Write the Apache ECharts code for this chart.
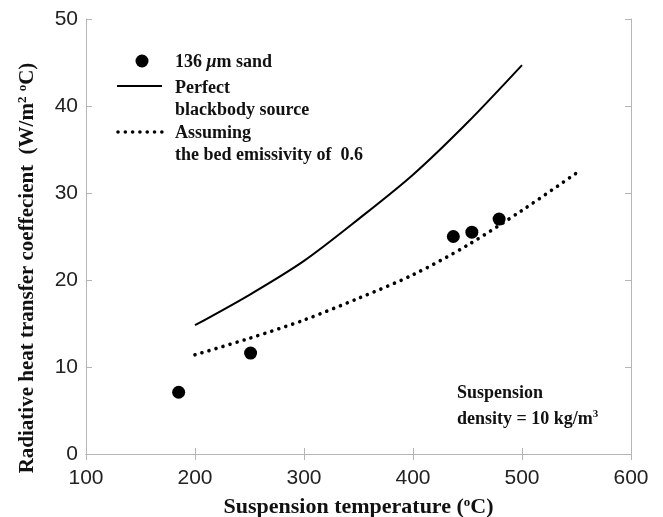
<!DOCTYPE html>
<html>
<head>
<meta charset="utf-8">
<script src="https://cdn.jsdelivr.net/npm/echarts@6/dist/echarts.min.js"></script>
<style>
  html, body { margin: 0; padding: 0; background: #fff; }
  #chart { width: 663px; height: 517px; }
</style>
</head>
<body>
<div id="chart"></div>
<script>
// measured points, 136 um sand
const sandTemp = [185, 251, 437, 454, 479];
const sandCoef = [7.1, 11.6, 25.0, 25.5, 27.0];
// perfect blackbody source
const bbTemp = [200, 250, 300, 350, 400, 450, 500];
const bbCoef = [14.8, 18.3, 22.2, 27.0, 32.1, 38.1, 44.7];
// bed emissivity 0.6
const emTemp = [200, 250, 300, 350, 400, 450, 500, 550];
const emCoef = [11.4, 13.3, 15.4, 17.9, 20.6, 24.0, 28.0, 32.3];

const serif = '"Liberation Serif", "DejaVu Serif", serif';
const sans = '"Liberation Sans", Arial, sans-serif';
const axisGray = '#b5b5b5';
const ink = '#111';

function pairs(xs, ys) {
  return xs.map((x, i) => [x, ys[i]]);
}

function sup(size, lift) {
  return { fontFamily: serif, fontWeight: 'bold', fontSize: size, padding: [0, 0, lift, 0], color: ink, fill: ink };
}

function label(x, y, text, rich) {
  return {
    type: 'text', x: x, y: y,
    style: {
      text: text, fontFamily: serif, fontWeight: 'bold', fontSize: 18, fill: ink,
      verticalAlign: 'middle', rich: rich || {}
    }
  };
}

let myChart = echarts.init(document.getElementById('chart'));
myChart.setOption({
  backgroundColor: '#fff',
  animation: false,
  grid: { left: 86, right: 32, top: 19, bottom: 63, containLabel: false, outerBoundsMode: 'none' },
  xAxis: [
    {
      type: 'value', min: 100, max: 600, interval: 100,
      name: 'Suspension temperature ({s|o}C)',
      nameLocation: 'middle', nameGap: 42,
      nameTextStyle: {
        fontFamily: serif, fontWeight: 'bold', fontSize: 22, color: ink,
        rich: { s: sup(13, 10) }
      },
      axisLine: { lineStyle: { color: axisGray } },
      axisTick: { inside: true, length: 6, lineStyle: { color: axisGray } },
      axisLabel: { fontFamily: sans, fontSize: 21, color: '#222', margin: 14 },
      splitLine: { show: false }
    },
    {
      type: 'value', min: 100, max: 600, interval: 100, position: 'top',
      axisLine: { show: true, lineStyle: { color: axisGray } },
      axisTick: { inside: true, length: 6, lineStyle: { color: axisGray } },
      axisLabel: { show: false },
      splitLine: { show: false }
    }
  ],
  yAxis: [
    {
      type: 'value', min: 0, max: 50, interval: 10,
      axisLine: { show: true, lineStyle: { color: axisGray } },
      axisTick: { show: true, inside: true, length: 6, lineStyle: { color: axisGray } },
      axisLabel: { fontFamily: sans, fontSize: 21, color: '#222', margin: 8 },
      splitLine: { show: false }
    },
    {
      type: 'value', min: 0, max: 50, interval: 10, position: 'right',
      axisLine: { show: true, lineStyle: { color: axisGray } },
      axisTick: { show: true, inside: true, length: 6, lineStyle: { color: axisGray } },
      axisLabel: { show: false },
      splitLine: { show: false }
    }
  ],
  series: [
    {
      name: '136 μm sand',
      type: 'scatter',
      data: pairs(sandTemp, sandCoef),
      symbolSize: 13,
      itemStyle: { color: '#000', opacity: 1 },
      z: 5
    },
    {
      name: 'Perfect blackbody source',
      type: 'line',
      data: pairs(bbTemp, bbCoef),
      smooth: 0.3,
      symbol: 'none',
      lineStyle: { color: '#000', width: 2 }
    },
    {
      name: 'Assuming the bed emissivity of 0.6',
      type: 'line',
      data: pairs(emTemp, emCoef),
      smooth: 0.3,
      symbol: 'none',
      lineStyle: { color: '#000', width: 3.6, type: [0.01, 7.3], cap: 'round' }
    }
  ],
  graphic: [
    // y axis title
    {
      type: 'text', x: 28, y: 268, rotation: Math.PI / 2,
      style: {
        text: 'Radiative heat transfer coeffecient  (W/m{s|2} {s|o}C)',
        fontFamily: serif, fontWeight: 'bold', fontSize: 21, fill: ink,
        align: 'center', verticalAlign: 'middle',
        rich: { s: sup(13, 10) }
      }
    },
    // legend
    { type: 'circle', shape: { cx: 142, cy: 61, r: 6.5 }, style: { fill: '#000' } },
    { type: 'line', shape: { x1: 117, y1: 86, x2: 162, y2: 86 }, style: { stroke: '#000', lineWidth: 2 } },
    { type: 'line', shape: { x1: 118, y1: 132, x2: 162, y2: 132 },
      style: { stroke: '#000', lineWidth: 3.6, lineDash: [0.01, 7.3], lineCap: 'round' } },
    label(175, 62, '136 {i|μ}m sand', {
      i: { fontFamily: serif, fontWeight: 'bold', fontStyle: 'italic', fontSize: 18, fill: ink }
    }),
    label(175, 88, 'Perfect'),
    label(175, 110, 'blackbody source'),
    label(175, 133, 'Assuming'),
    label(175, 155, 'the bed emissivity of  0.6'),
    // annotation
    label(457, 393, 'Suspension'),
    label(457, 419, 'density = 10 kg/m{s|3}', { s: sup(11, 9) })
  ]
});
</script>
</body>
</html>
